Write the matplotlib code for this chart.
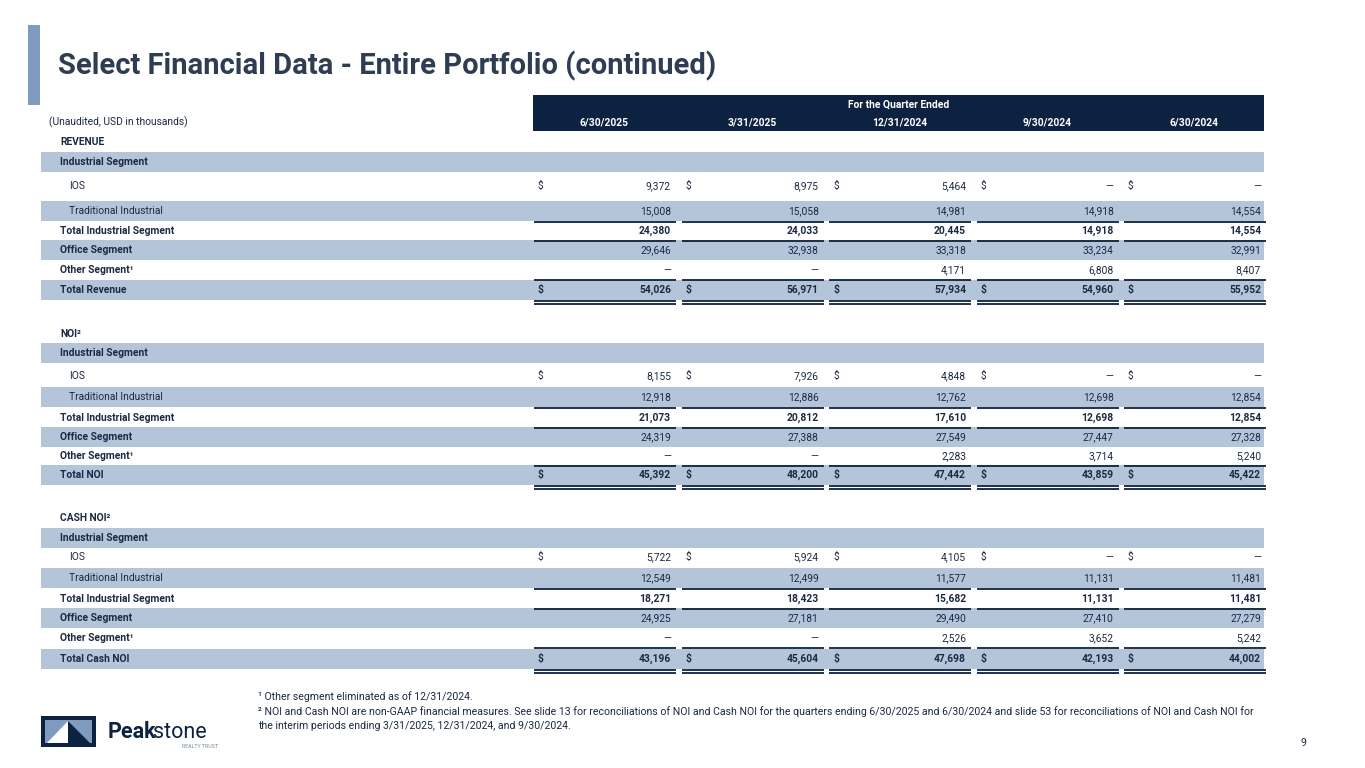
import matplotlib.pyplot as plt
from matplotlib.patches import Rectangle, Polygon

plt.rcParams['font.family'] = ['Roboto', 'DejaVu Sans']

title = "Select Financial Data - Entire Portfolio (continued)"
quarters = ["6/30/2025", "3/31/2025", "12/31/2024", "9/30/2024", "6/30/2024"]

# None = dash
revenue = {
    "IOS": [9372, 8975, 5464, None, None],
    "Traditional Industrial": [15008, 15058, 14981, 14918, 14554],
    "Total Industrial Segment": [24380, 24033, 20445, 14918, 14554],
    "Office Segment": [29646, 32938, 33318, 33234, 32991],
    "Other Segment": [None, None, 4171, 6808, 8407],
    "Total": [54026, 56971, 57934, 54960, 55952],
}
noi = {
    "IOS": [8155, 7926, 4848, None, None],
    "Traditional Industrial": [12918, 12886, 12762, 12698, 12854],
    "Total Industrial Segment": [21073, 20812, 17610, 12698, 12854],
    "Office Segment": [24319, 27388, 27549, 27447, 27328],
    "Other Segment": [None, None, 2283, 3714, 5240],
    "Total": [45392, 48200, 47442, 43859, 45422],
}
cash_noi = {
    "IOS": [5722, 5924, 4105, None, None],
    "Traditional Industrial": [12549, 12499, 11577, 11131, 11481],
    "Total Industrial Segment": [18271, 18423, 15682, 11131, 11481],
    "Office Segment": [24925, 27181, 29490, 27410, 27279],
    "Other Segment": [None, None, 2526, 3652, 5242],
    "Total": [43196, 45604, 47698, 42193, 44002],
}

sections = [
    ("REVENUE", "Total Revenue", revenue),
    ("NOI\u00b2", "Total NOI", noi),
    ("CASH NOI\u00b2", "Total Cash NOI", cash_noi),
]

footnotes = [
    "\u00b9 Other segment eliminated as of 12/31/2024.",
    "\u00b2 NOI and Cash NOI are non-GAAP financial measures. See slide 13 for reconciliations of NOI and Cash NOI for the quarters ending 6/30/2025 and 6/30/2024 and slide 53 for reconciliations of NOI and Cash NOI for",
    "the interim periods ending 3/31/2025, 12/31/2024, and 9/30/2024.",
]

# layout (pixels)
navy = "#0d2240"
band = "#b4c4d9"
txt = "#1b2a41"
title_col = "#2e3d52"
accent = "#7f9cc0"
col_left = [533 + 147.5 * i for i in range(5)]
col_w = 143
table_left, table_right = 41, 1264
fs = 7.4

# section y: header, industrial, IOS, trad, total ind, office, other, total
section_y = [
    [142, 162, 186, 211, 231, 250, 270, 290],
    [334, 353, 376, 397, 418, 437, 456, 475],
    [518, 538, 557, 578, 599, 618, 638, 659],
]


def fmt(v):
    return "\u2014" if v is None else f"{v:,}"


fig = plt.figure(figsize=(13.65, 7.68), dpi=100)
ax = fig.add_axes([0, 0, 1, 1])
ax.set_xlim(0, 1365)
ax.set_ylim(768, 0)
ax.axis('off')

# title + accent bar
ax.add_patch(Rectangle((28, 25), 12, 80, color=accent, lw=0))
ax.text(58, 66, title, fontsize=21, fontweight='bold', color=title_col, va='center')

# header band
ax.add_patch(Rectangle((col_left[0], 95), table_right - col_left[0], 36, color=navy, lw=0))
ax.text((col_left[0] + table_right) / 2, 105, "For the Quarter Ended", fontsize=fs,
        fontweight='bold', color='white', ha='center', va='center')
for i, q in enumerate(quarters):
    ax.text(col_left[i] + col_w / 2, 122, q, fontsize=fs, fontweight='bold',
            color='white', ha='center', va='center')
ax.text(49, 122, "(Unaudited, USD in thousands)", fontsize=fs, color=txt, va='center')


def hline(y, x0, x1, lw=1.3):
    ax.plot([x0, x1], [y, y], color=navy, lw=lw, solid_capstyle='butt')


def col_lines(y, lw=1.3):
    for c in col_left:
        hline(y, c + 1, c + col_w, lw)


for (head, total_label, data), ys in zip(sections, section_y):
    yh, yind, yios, ytrad, ytot, yoff, yoth, ytotal = ys
    ax.text(60, yh, head, fontsize=fs, fontweight='bold', color=txt, va='center')

    for yb in (yind, ytrad, yoff, ytotal):
        ax.add_patch(Rectangle((table_left, yb - 10), table_right - table_left, 20,
                               color=band, lw=0))

    ax.text(60, yind, "Industrial Segment", fontsize=fs, fontweight='bold', color=txt, va='center')
    rows = [
        ("IOS", yios, 'normal', 'normal', 69, True),
        ("Traditional Industrial", ytrad, 'normal', 'normal', 69, False),
        ("Total Industrial Segment", ytot, 'bold', 'bold', 60, False),
        ("Office Segment", yoff, 'bold', 'normal', 60, False),
        ("Other Segment", yoth, 'bold', 'normal', 60, False),
        ("Total", ytotal, 'bold', 'bold', 60, True),
    ]
    for key, y, lw_lab, lw_val, xl, dollar in rows:
        label = {"Total": total_label, "Other Segment": "Other Segment\u00b9"}.get(key, key)
        ax.text(xl, y, label, fontsize=fs, fontweight=lw_lab, color=txt, va='center')
        for i, v in enumerate(data[key]):
            ax.text(col_left[i] + 138, y, fmt(v), fontsize=fs, fontweight=lw_val,
                    color=txt, ha='right', va='center')
            if dollar:
                ax.text(col_left[i] + 5, y, "$", fontsize=fs, fontweight=lw_val,
                        color=txt, va='center')

    col_lines(ytrad + 10.5)
    col_lines(ytot + 9.5)
    col_lines(yoth + 9.5)
    col_lines(ytotal + 10.5)
    col_lines(ytotal + 14)

# footnotes
for k, line in enumerate(footnotes):
    ax.text(258, 697 + 14.5 * k, line, fontsize=7.6, color=txt, va='center')

ax.text(1303, 743, "9", fontsize=7.6, color=txt, ha='center', va='center')

# logo
ax.add_patch(Rectangle((41, 716), 55, 31, color=navy, lw=0))
ax.add_patch(Rectangle((45, 720), 47, 23, color=accent, lw=0))
ax.add_patch(Polygon([(47, 743), (68, 721), (68, 743)], closed=True, color='white', lw=0))
ax.add_patch(Polygon([(68, 721), (90, 743), (68, 743)], closed=True, color=navy, lw=0))
ax.text(108, 732, "Peak", fontsize=15.5, fontweight='bold', color=navy, va='center')
ax.text(153, 732, "stone", fontsize=15.5, color=navy, va='center')
ax.text(218, 747, "REALTY TRUST", fontsize=3.8, color='#7a8aa0', ha='right', va='center')

fig.savefig("out.png", dpi=100)
